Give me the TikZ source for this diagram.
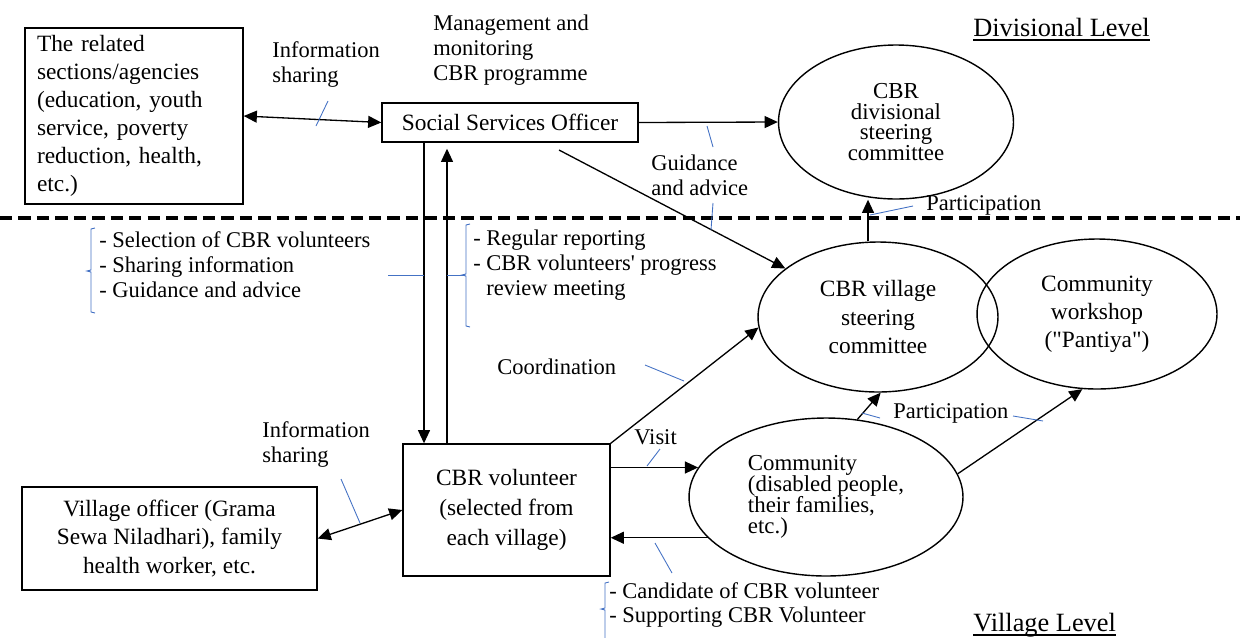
\documentclass[tikz,border=0pt]{standalone}
\usepackage{fontspec}
\setmainfont{Liberation Serif}
\usetikzlibrary{arrows.meta, shapes.geometric, calc}
\definecolor{leadblue}{RGB}{68,114,196}
\newcommand{\txtnorm}{\fontsize{13.3}{16}\selectfont}
\newcommand{\txtsmall}{\fontsize{12.8}{14.2}\selectfont}
\newcommand{\txttight}{\fontsize{13}{11.6}\selectfont}
\newcommand{\sidebrace}[4]{\draw[leadblue, line width=0.5pt] (#1+4,#2) -- (#1,#2+1) -- (#1,#3-1) -- (#1-4,#3) -- (#1,#3+1) -- (#1,#4-1) -- (#1+4,#4);}

\begin{document}
\begin{tikzpicture}[x=0.02cm, y=-0.02cm,
	box/.style={draw, line width=0.8pt, inner sep=0pt, font=\txtnorm, align=center},
	oval/.style={draw, ellipse, line width=0.8pt, inner sep=0pt, font=\txtnorm, align=center},
	conn/.style={line width=0.75pt, -{Triangle[length=7.5pt, width=6.8pt]}},
	both/.style={line width=0.75pt, {Triangle[length=7.5pt, width=6.8pt]}-{Triangle[length=7.5pt, width=6.8pt]}},
	lead/.style={leadblue, line width=0.5pt},
	note/.style={font=\txtsmall, align=left, inner sep=0pt, anchor=west},
	level/.style={font=\fontsize{15}{18}\selectfont, inner sep=0pt, anchor=base west}]
	\useasboundingbox (0,0) rectangle (1240,637);

	% divisional level
	\node[box, minimum width=4.36cm, minimum height=3.52cm, text width=3.88cm, align=left] (agencies) at (134,116) {The related\\sections/agencies\\(education, youth\\service, poverty\\reduction, health,\\etc.)};
	\node[box, minimum width=5.12cm, minimum height=0.78cm] (sso) at (510,122.5) {Social Services Officer};
	\node[oval, font=\txttight, minimum width=4.7cm, minimum height=3.08cm] (divsc) at (896,122) {CBR\\divisional\\steering\\committee};
	\node[note] (infoup) at (272,64.5) {Information\\sharing};
	\node[note] (manage) at (433,50) {Management and\\monitoring\\CBR programme};
	\node[note] (guide) at (651,175.5) {Guidance\\and advice};
	\node[note] (partup) at (926,205) {Participation};
	\node[level] (divlvl) at (973,36) {Divisional Level};
	\draw[line width=1.1pt] ($(divlvl.base west)+(0,4)$) -- ($(divlvl.base east)+(0,4)$);

	\draw[line width=1.9pt, dash pattern=on 7pt off 3.5pt] (0,218) -- (1240,218);

	% village level
	\node[oval, minimum width=4.8cm, minimum height=3cm] (villsc) at (878,317) {CBR village\\steering\\committee};
	\node[oval, minimum width=4.8cm, minimum height=3cm] (wshop) at (1097,314) {Community\\workshop\\(\textquotedbl Pantiya\textquotedbl)};
	\node[oval, font=\fontsize{13}{12}\selectfont, align=left, minimum width=5.48cm, minimum height=3.16cm] (commu) at (826,497) {Community\\(disabled people,\\their families,\\etc.)};
	\node[box, font=\fontsize{13.3}{17}\selectfont, minimum width=4.14cm, minimum height=2.64cm] (volunt) at (506.5,510) {CBR volunteer\\(selected from\\each village)};
	\node[box, minimum width=5.9cm, minimum height=2.06cm] (vofficer) at (169.5,538.5) {Village officer (Grama\\Sewa Niladhari), family\\health worker, etc.};
	\node[note] (selnote) at (99,265) {- Selection of CBR volunteers\\- Sharing information\\- Guidance and advice};
	\node[note] (repnote) at (473,265) {- Regular reporting\\- CBR volunteers\textquotesingle\ progress\\\hphantom{- }review meeting};
	\node[note] (candnote) at (609,605) {- Candidate of CBR volunteer\\- Supporting CBR Volunteer};
	\node[note] (coord) at (497,367) {Coordination};
	\node[note] (visit) at (634,437) {Visit};
	\node[note] (partlow) at (893,413) {Participation};
	\node[note] (infolow) at (262,444.5) {Information\\sharing};
	\node[level] (villvl) at (973,631) {Village Level};
	\draw[line width=0.8pt] ($(villvl.base west)+(0,4)$) -- ($(villvl.base east)+(0,4)$);

	% connectors
	\coordinate (ssofoot) at (559,150);
	\coordinate (downx) at (424,0);
	\coordinate (upx) at (447,0);
	\coordinate (partx) at (868,0);
	\draw[both] (agencies.east) -- (sso.west);
	\draw[conn] (sso.east) -- (divsc.west);
	\draw[conn] (ssofoot) -- (villsc);
	\draw[conn] (sso.south -| downx) -- (volunt.north -| downx);
	\draw[conn] (volunt.north -| upx) -- ($(sso.south -| upx)+(0,6)$);
	\draw[conn] (villsc.north -| partx) -- (divsc.south -| partx);
	\draw[both] (vofficer.east) -- (volunt.west);
	\draw[conn] (volunt.east |- commu.167) -- (commu.167);
	\draw[conn] (commu.199) -- (volunt.east |- commu.199);
	\draw[conn] (volunt.north east) -- (villsc.185);
	\draw[conn] (commu.68) -- (villsc.272);
	\draw[conn] (commu.10) -- (wshop.259);

	% label leaders
	\draw[lead] (316,126) -- (328,101);
	\draw[lead] (707,126) -- (713,147);
	\draw[lead] (713,203) -- (711,230);
	\draw[lead] (870,215) -- (913,206);
	\draw[lead] (388,275) -- (424,275);
	\draw[lead] (447,275) -- (464,275);
	\draw[lead] (645,365) -- (684,381);
	\draw[lead] (647,466) -- (660,449);
	\draw[lead] (862,413) -- (880,418);
	\draw[lead] (1013,416) -- (1043,421);
	\draw[lead] (341,479) -- (360,523);
	\draw[lead] (655,543) -- (672,573);
	\sidebrace{91}{228}{271}{313}
	\sidebrace{466}{224}{275}{327}
	\sidebrace{605}{582}{609}{645}
\end{tikzpicture}
\end{document}
